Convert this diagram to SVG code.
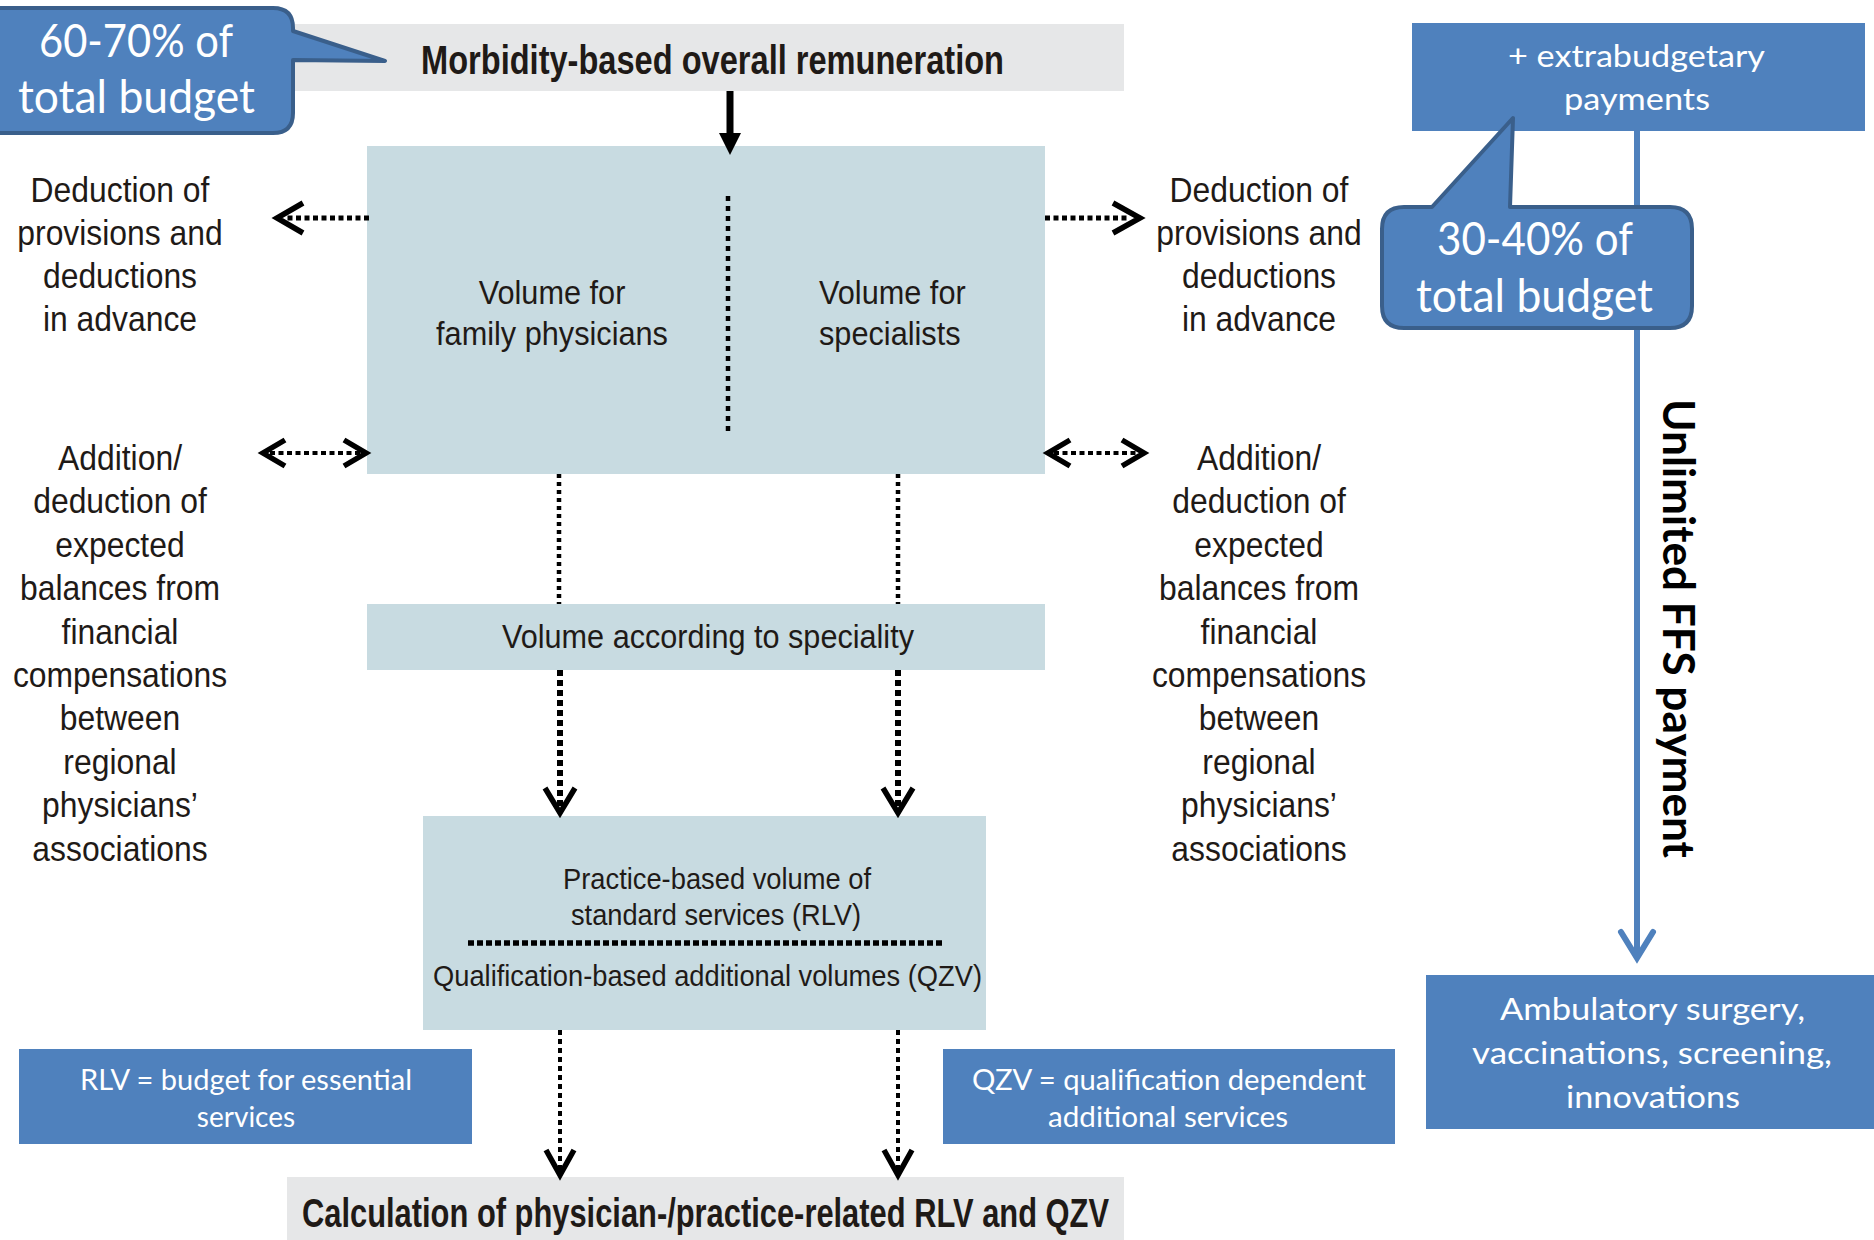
<svg xmlns="http://www.w3.org/2000/svg" width="1874" height="1240" viewBox="0 0 1874 1240">
  <style>
    .bg { fill: #ffffff; }
    .gray { fill: #E6E7E8; }
    .pale { fill: #C8DBE1; }
    .blue { fill: #4F81BD; }
    .callout { fill: #4F81BD; stroke: #3A5F8B; stroke-width: 4; stroke-linejoin: round; }
    .body { font-family: "Liberation Sans", Arial, sans-serif; fill: #1F1A17; }
    .head { font-family: "Liberation Sans", Arial, sans-serif; font-weight: bold; font-size: 40px; fill: #1F1A17; }
    .white { font-family: Lato, "Open Sans", sans-serif; fill: #ffffff; }
    .dot { fill: none; stroke: #000; }
    .chev { fill: none; stroke: #000; stroke-width: 5.5; stroke-linejoin: miter; stroke-linecap: butt; }
  </style>

  <rect class="bg" x="0" y="0" width="1874" height="1240"/>

  <!-- Top bar -->
  <g id="node-overall">
    <rect class="gray" x="293" y="24" width="831" height="67"/>
    <text class="head" x="421" y="74" textLength="583" lengthAdjust="spacingAndGlyphs">Morbidity-based overall remuneration</text>
  </g>

  <!-- Main volume block split into two halves -->
  <g id="node-volumes">
    <rect class="pale" x="367" y="146" width="678" height="328"/>
    <line class="dot" x1="728" y1="196" x2="728" y2="434" stroke-width="4.5" stroke-dasharray="5 5"/>
    <g transform="translate(552,0) scale(0.93,1)">
      <text class="body" font-size="33" text-anchor="middle"><tspan x="0" y="304">Volume for</tspan><tspan x="0" y="345">family physicians</tspan></text>
    </g>
    <g transform="translate(819,0) scale(0.93,1)">
      <text class="body" font-size="33"><tspan x="0" y="304">Volume for</tspan><tspan x="0" y="345">specialists</tspan></text>
    </g>
  </g>

  <!-- Side annotations, left -->
  <g id="node-left-deduction" transform="translate(120,0) scale(0.885,1)">
    <text class="body" font-size="36" text-anchor="middle"><tspan x="0" y="202">Deduction of</tspan><tspan x="0" y="245">provisions and</tspan><tspan x="0" y="288">deductions</tspan><tspan x="0" y="331">in advance</tspan></text>
  </g>
  <g id="node-left-balance" transform="translate(120,0) scale(0.885,1)">
    <text class="body" font-size="36" text-anchor="middle"><tspan x="0" y="470">Addition/</tspan><tspan x="0" y="513.4">deduction of</tspan><tspan x="0" y="556.8">expected</tspan><tspan x="0" y="600.2">balances from</tspan><tspan x="0" y="643.6">financial</tspan><tspan x="0" y="687">compensations</tspan><tspan x="0" y="730.4">between</tspan><tspan x="0" y="773.8">regional</tspan><tspan x="0" y="817.2">physicians’</tspan><tspan x="0" y="860.6">associations</tspan></text>
  </g>

  <!-- Side annotations, right -->
  <g id="node-right-deduction" transform="translate(1259,0) scale(0.885,1)">
    <text class="body" font-size="36" text-anchor="middle"><tspan x="0" y="202">Deduction of</tspan><tspan x="0" y="245">provisions and</tspan><tspan x="0" y="288">deductions</tspan><tspan x="0" y="331">in advance</tspan></text>
  </g>
  <g id="node-right-balance" transform="translate(1259,0) scale(0.885,1)">
    <text class="body" font-size="36" text-anchor="middle"><tspan x="0" y="470">Addition/</tspan><tspan x="0" y="513.4">deduction of</tspan><tspan x="0" y="556.8">expected</tspan><tspan x="0" y="600.2">balances from</tspan><tspan x="0" y="643.6">financial</tspan><tspan x="0" y="687">compensations</tspan><tspan x="0" y="730.4">between</tspan><tspan x="0" y="773.8">regional</tspan><tspan x="0" y="817.2">physicians’</tspan><tspan x="0" y="860.6">associations</tspan></text>
  </g>

  <!-- Volume according to speciality -->
  <g id="node-speciality">
    <rect class="pale" x="367" y="604" width="678" height="66"/>
    <text class="body" font-size="34" x="502" y="648" textLength="412" lengthAdjust="spacingAndGlyphs">Volume according to speciality</text>
  </g>

  <!-- RLV / QZV block -->
  <g id="node-rlv-qzv">
    <rect class="pale" x="423" y="816" width="563" height="214"/>
    <text class="body" font-size="30" x="563" y="889" textLength="308" lengthAdjust="spacingAndGlyphs">Practice-based volume of</text>
    <text class="body" font-size="30" x="571" y="925" textLength="290" lengthAdjust="spacingAndGlyphs">standard services (RLV)</text>
    <line class="dot" x1="468" y1="943" x2="942" y2="943" stroke-width="5.5" stroke-dasharray="6 3"/>
    <text class="body" font-size="30" x="433" y="986" textLength="549" lengthAdjust="spacingAndGlyphs">Qualification-based additional volumes (QZV)</text>
  </g>

  <!-- Bottom bar -->
  <g id="node-calculation">
    <rect class="gray" x="287" y="1177" width="837" height="63"/>
    <text class="head" x="302" y="1227" textLength="807" lengthAdjust="spacingAndGlyphs">Calculation of physician-/practice-related RLV and QZV</text>
  </g>

  <!-- Legend boxes -->
  <g id="node-rlv-note">
    <rect class="blue" x="19" y="1049" width="453" height="95"/>
    <text class="white" font-size="28" x="80" y="1090" textLength="332" lengthAdjust="spacingAndGlyphs">RLV = budget for essential</text>
    <text class="white" font-size="28" x="246" y="1127" text-anchor="middle">services</text>
  </g>
  <g id="node-qzv-note">
    <rect class="blue" x="943" y="1049" width="452" height="95"/>
    <text class="white" font-size="28" x="972" y="1090" textLength="394" lengthAdjust="spacingAndGlyphs">QZV = qualification dependent</text>
    <text class="white" font-size="28" x="1048" y="1127" textLength="240" lengthAdjust="spacingAndGlyphs">additional services</text>
  </g>

  <!-- Extrabudgetary side -->
  <g id="node-extrabudgetary">
    <rect class="blue" x="1412" y="23" width="453" height="108"/>
    <text class="white" font-size="30" x="1508" y="67" textLength="257" lengthAdjust="spacingAndGlyphs">+ extrabudgetary</text>
    <text class="white" font-size="30" x="1564" y="110" textLength="146" lengthAdjust="spacingAndGlyphs">payments</text>
  </g>

  <g id="node-ambulatory">
    <rect class="blue" x="1426" y="975" width="448" height="154"/>
    <text class="white" font-size="30" x="1500" y="1020" textLength="305" lengthAdjust="spacingAndGlyphs">Ambulatory surgery,</text>
    <text class="white" font-size="30" x="1472" y="1064" textLength="360" lengthAdjust="spacingAndGlyphs">vaccinations, screening,</text>
    <text class="white" font-size="30" x="1566" y="1108" textLength="174" lengthAdjust="spacingAndGlyphs">innovations</text>
  </g>

  <!-- Connectors -->
  <g id="connectors">
    <!-- solid arrow into the volume block -->
    <line x1="730" y1="91" x2="730" y2="135" stroke="#000" stroke-width="7"/>
    <polygon points="719,133 741,133 730,155" fill="#000"/>

    <!-- deductions taken out on both sides -->
    <line class="dot" x1="369" y1="218" x2="286" y2="218" stroke-width="5" stroke-dasharray="5 3.5"/>
    <polyline class="chev" points="303,203 277,218 303,233"/>
    <line class="dot" x1="1045" y1="218" x2="1130" y2="218" stroke-width="5" stroke-dasharray="5 3.5"/>
    <polyline class="chev" points="1113,203 1140,218 1113,233"/>

    <!-- two-way balances on both sides -->
    <line class="dot" x1="270" y1="453" x2="360" y2="453" stroke-width="4" stroke-dasharray="5 3.5"/>
    <polyline class="chev" points="285,440 263,453 285,466"/>
    <polyline class="chev" points="344,440 366,453 344,466"/>
    <line class="dot" x1="1054" y1="453" x2="1138" y2="453" stroke-width="4" stroke-dasharray="5 3.5"/>
    <polyline class="chev" points="1070,440 1048,453 1070,466"/>
    <polyline class="chev" points="1122,440 1144,453 1122,466"/>

    <!-- volume block to speciality bar -->
    <line class="dot" x1="559" y1="474" x2="559" y2="604" stroke-width="4.5" stroke-dasharray="4 4"/>
    <line class="dot" x1="898" y1="474" x2="898" y2="604" stroke-width="4.5" stroke-dasharray="4 4"/>

    <!-- speciality bar to RLV/QZV block -->
    <line class="dot" x1="560" y1="670" x2="560" y2="808" stroke-width="6" stroke-dasharray="6 4"/>
    <polyline class="chev" points="545,788 560,813 575,788"/>
    <line class="dot" x1="898" y1="670" x2="898" y2="808" stroke-width="6" stroke-dasharray="6 4"/>
    <polyline class="chev" points="883,788 898,813 913,788"/>

    <!-- RLV/QZV block to calculation bar -->
    <line class="dot" x1="560" y1="1030" x2="560" y2="1170" stroke-width="4" stroke-dasharray="5 4"/>
    <polyline class="chev" points="546,1150 560,1175 574,1150"/>
    <line class="dot" x1="898" y1="1030" x2="898" y2="1170" stroke-width="4" stroke-dasharray="5 4"/>
    <polyline class="chev" points="884,1150 898,1175 912,1150"/>

    <!-- fee-for-service path -->
    <line x1="1637" y1="131" x2="1637" y2="957" stroke="#4F81BD" stroke-width="6"/>
    <polyline points="1621,932 1637,958 1653,932" fill="none" stroke="#4F81BD" stroke-width="6" stroke-linecap="round" stroke-linejoin="miter"/>
    <text transform="translate(1663,399) rotate(90)" font-family="Lato, 'Open Sans', sans-serif" font-weight="bold" font-size="44" fill="#000" textLength="459" lengthAdjust="spacingAndGlyphs">Unlimited FFS payment</text>
  </g>

  <!-- Budget share callouts -->
  <g id="node-share-morbidity">
    <path class="callout" d="M -20,8 H 273 Q 293,8 293,28 V 31 L 385,61 L 293,60 V 113 Q 293,133 273,133 H -20 Z"/>
    <text class="white" font-size="46" x="39" y="57" textLength="194" lengthAdjust="spacingAndGlyphs">60-70% of</text>
    <text class="white" font-size="46" x="18" y="113" textLength="237" lengthAdjust="spacingAndGlyphs">total budget</text>
  </g>
  <g id="node-share-extrabudgetary">
    <path class="callout" d="M 1404,207 H 1432 L 1513,118 L 1510,207 H 1670 Q 1692,207 1692,229 V 306 Q 1692,328 1670,328 H 1404 Q 1382,328 1382,306 V 229 Q 1382,207 1404,207 Z"/>
    <text class="white" font-size="46" x="1437" y="255" textLength="196" lengthAdjust="spacingAndGlyphs">30-40% of</text>
    <text class="white" font-size="46" x="1416" y="312" textLength="237" lengthAdjust="spacingAndGlyphs">total budget</text>
  </g>
</svg>
